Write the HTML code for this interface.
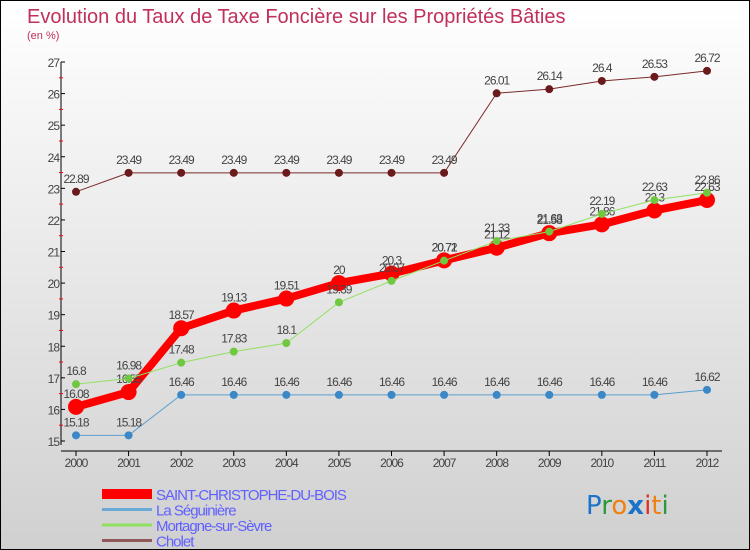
<!DOCTYPE html>
<html><head><meta charset="utf-8"><style>
body{margin:0;}
#wrap{width:750px;height:550px;position:relative;box-sizing:border-box;border:1px solid #000;background:linear-gradient(#fff,#d0d0d0);font-family:"Liberation Sans",sans-serif;overflow:hidden}
svg{position:absolute;left:0;top:0}
</style></head><body>
<div id="wrap">
<svg id="c" width="750" height="550">
<text x="26" y="22" font-size="20" fill="#c0305a">Evolution du Taux de Taxe Foncière sur les Propriétés Bâties</text>
<text x="26" y="38" font-size="11" fill="#c0305a">(en %)</text>
<text x="585" y="513" font-size="26" font-family="'DejaVu Sans',sans-serif"><tspan fill="#1a73c8">P</tspan><tspan fill="#2a9a3a">r</tspan><tspan fill="#f08010">o</tspan><tspan fill="#1a73c8" font-weight="bold">x</tspan><tspan fill="#e03020">i</tspan><tspan fill="#f08010">t</tspan><tspan fill="#2a9a3a">i</tspan></text>
</svg>
</div>
<script>
const years=["2000","2001","2002","2003","2004","2005","2006","2007","2008","2009","2010","2011","2012"];
const yTicks=[15,16,17,18,19,20,21,22,23,24,25,26,27];
const saintChristophe=[16.08,16.55,18.57,19.13,19.51,20,20.3,20.72,21.12,21.58,21.86,22.3,22.63];
const laSeguiniere=[15.18,15.18,16.46,16.46,16.46,16.46,16.46,16.46,16.46,16.46,16.46,16.46,16.62];
const mortagne=[16.8,16.98,17.48,17.83,18.1,19.39,20.07,20.71,21.33,21.63,22.19,22.63,22.86];
const cholet=[22.89,23.49,23.49,23.49,23.49,23.49,23.49,23.49,26.01,26.14,26.4,26.53,26.72];
const seriesNames=["SAINT-CHRISTOPHE-DU-BOIS","La Séguinière","Mortagne-sur-Sèvre","Cholet"];
const svg=document.getElementById('c');const NS="http://www.w3.org/2000/svg";
const X0=75,X1=706,Y0=440,Y1=61,VMIN=15,VMAX=27;
function x(i){return X0+i*(X1-X0)/(years.length-1);}
function y(v){return Y0-(v-VMIN)*(Y0-Y1)/(VMAX-VMIN);}
function mk(t,a){const e=document.createElementNS(NS,t);for(const k in a)e.setAttribute(k,a[k]);svg.appendChild(e);return e;}
let e;
e=mk('line',{x1:60,y1:Y1,x2:60,y2:Y0+4,stroke:'#000','stroke-width':1});


e=mk('line',{x1:60,y1:Y0+10,x2:X1+15,y2:Y0+10,stroke:'#000','stroke-width':1});


yTicks.forEach(v=>{
 let t=mk('line',{x1:60,y1:y(v),x2:64,y2:y(v),stroke:'#000'});
 
 
 if(v<VMAX){t=mk('line',{x1:58,y1:y(v+0.5),x2:62,y2:y(v+0.5),stroke:'#f00'});
 
 }
 t=mk('text',{x:58,y:y(v)+5,'font-size':12,fill:'#444','text-anchor':'end','letter-spacing':'-1'});t.textContent=v;
 
 
});
years.forEach((yr,i)=>{
 let t=mk('line',{x1:x(i),y1:Y0+10,x2:x(i),y2:Y0+15,stroke:'#000'});
 
 
 t=mk('text',{x:x(i),y:Y0+26,'font-size':12,fill:'#444','text-anchor':'middle','letter-spacing':'-1'});t.textContent=yr;
 
 
});
function series(data,color,w,r,name,ptcolor){
 const p=mk('polyline',{points:data.map((v,i)=>x(i)+','+y(v)).join(' '),fill:'none',stroke:color,'stroke-width':w,'stroke-linejoin':'round'});
 
 
 data.forEach((v,i)=>{
  const c=mk('circle',{cx:x(i),cy:y(v),r:r,fill:ptcolor});
  
  
  const t=mk('text',{x:x(i),y:y(v)-9,'font-size':12,fill:'#444','text-anchor':'middle','letter-spacing':'-1'});t.textContent=v;
  
  
 });
}
series(cholet,'#7a2a2a',1,4,'cholet','#6a1a1a');
series(laSeguiniere,'#5a9fd0',1,4,'la-seguiniere','#3a88c8');
series(saintChristophe,'#ff0000',8,8,'saint-christophe','#ff0000');
series(mortagne,'#90e060',1,4,'mortagne','#70c840');
const legColors=['#ff0000','#6aa8d8','#90e060','#905858'];const legW=[10,3,3,3];
seriesNames.forEach((n,i)=>{
 const ly=493+i*15.5;
 let l=mk('line',{x1:101,y1:ly,x2:151,y2:ly,stroke:legColors[i],'stroke-width':legW[i]});
 
 
 let t=mk('text',{x:155,y:ly+6,'font-size':15,fill:'#6060ff','letter-spacing':'-1'});t.textContent=n;
 
 
});
</script>
</body></html>
